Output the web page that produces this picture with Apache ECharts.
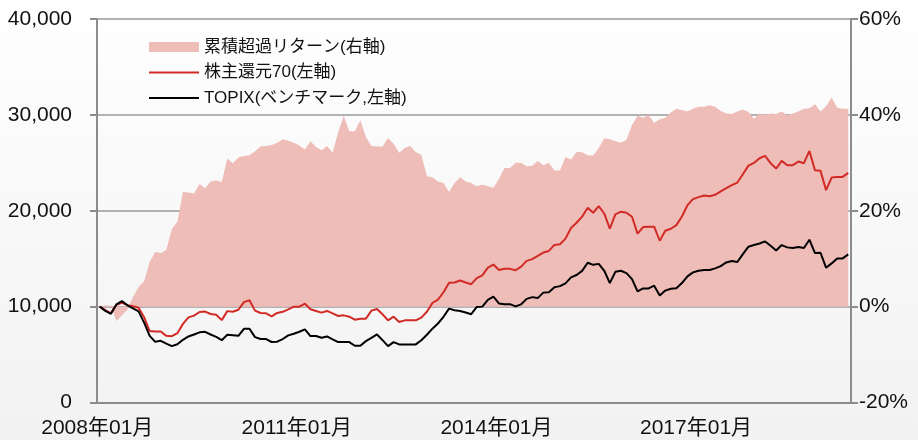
<!DOCTYPE html>
<html>
<head>
<meta charset="utf-8">
<script src="https://cdn.jsdelivr.net/npm/echarts@6/dist/echarts.min.js"></script>
<style>
  html, body { margin: 0; padding: 0; background: #fff; }
  #chart { width: 918px; height: 440px; }
</style>
</head>
<body>
<div id="chart"></div>
<script>
// Monthly series, 2008/01 .. 2019/04
const startYear = 2008;
const monthCount = 136;

// 累積超過リターン (%), right axis
const excessReturn = [
  0, 0.3, 0.2, -3.0, -1.8, -0.6, 2.0, 4.1, 5.3, 9.3, 11.4, 11.2,
  11.8, 16.2, 17.7, 23.9, 23.8, 23.6, 25.6, 24.7, 26.1, 26.3, 26.0, 30.9,
  29.9, 31.1, 31.4, 31.6, 32.4, 33.4, 33.5, 33.7, 34.2, 34.9, 34.6, 34.2,
  33.6, 32.8, 34.5, 33.3, 32.6, 33.5, 32.1, 36.4, 39.8, 36.6, 36.6, 38.9,
  35.4, 33.5, 33.4, 33.4, 35.2, 34.0, 32.1, 33.1, 33.5, 32.2, 31.7, 27.2,
  27.0, 26.1, 25.8, 23.9, 25.8, 27.0, 26.1, 25.8, 25.1, 25.5, 25.1, 24.8,
  26.6, 28.9, 28.9, 30.0, 30.0, 29.3, 29.4, 30.4, 29.5, 30.0, 28.4, 28.4,
  31.2, 30.7, 32.3, 32.2, 31.6, 31.5, 33.1, 35.1, 34.9, 34.5, 34.2, 34.8,
  37.9, 39.8, 39.4, 40.0, 38.3, 39.1, 39.4, 40.5, 41.3, 41.0, 40.7, 41.3,
  41.7, 41.7, 42.0, 41.7, 40.8, 40.3, 40.2, 40.7, 41.1, 40.6, 39.2, 40.3,
  40.0, 40.3, 40.2, 40.7, 39.9, 40.3, 40.7, 41.3, 41.4, 42.2, 40.7, 41.8,
  43.6, 41.5, 41.3, 41.3
];

// 株主還元70, left axis
const fundValues = [
  10000, 9650, 9300, 10200, 10400, 10150, 10050, 9880, 8900, 7450, 7400, 7400,
  6950, 6920, 7230, 8200, 8880, 9060, 9440, 9480, 9230, 9160, 8590, 9530,
  9460, 9670, 10470, 10660, 9580, 9340, 9300, 8990, 9340, 9460, 9720, 10000,
  10000, 10310, 9720, 9550, 9370, 9550, 9300, 9020, 9090, 8950, 8640, 8740,
  8740, 9580, 9760, 9200, 8570, 8950, 8400, 8570, 8570, 8570, 8850, 9460,
  10380, 10730, 11500, 12480, 12510, 12720, 12510, 12340, 12970, 13260, 14060, 14390,
  13820, 13940, 13940, 13790, 14170, 14770, 14950, 15290, 15640, 15810, 16440, 16500,
  17090, 18200, 18750, 19380, 20310, 19790, 20480, 19690, 18130, 19620, 19900, 19790,
  19380, 17610, 18300, 18340, 18340, 16870, 17910, 18120, 18500, 19400, 20580, 21210,
  21420, 21590, 21520, 21660, 22010, 22350, 22670, 22940, 23810, 24710, 24990, 25480,
  25720, 24960, 24400, 25200, 24750, 24750, 25130, 24960, 26240, 24230, 24160, 22150,
  23460, 23530, 23530, 23950
];

// TOPIX (ベンチマーク), left axis
const topixValues = [
  10000, 9560, 9250, 10230, 10570, 10140, 9810, 9500, 8330, 6950, 6330, 6430,
  6140, 5880, 6070, 6540, 6890, 7090, 7320, 7370, 7090, 6850, 6500, 7060,
  7020, 6950, 7690, 7690, 6820, 6620, 6620, 6310, 6340, 6620, 7000, 7170,
  7380, 7630, 6930, 6930, 6750, 6890, 6580, 6300, 6300, 6300, 5920, 5920,
  6400, 6750, 7100, 6510, 5880, 6300, 6060, 6060, 6060, 6060, 6490, 7070,
  7700, 8240, 8940, 9790, 9630, 9550, 9390, 9210, 9970, 10000, 10710, 11040,
  10330, 10260, 10260, 10020, 10240, 10810, 10990, 10890, 11460, 11510, 12030, 12140,
  12430, 13050, 13300, 13730, 14580, 14360, 14460, 13740, 12460, 13630, 13740, 13500,
  12870, 11590, 11900, 11900, 12180, 11150, 11670, 11870, 11910, 12460, 13160, 13570,
  13750, 13820, 13820, 13990, 14230, 14610, 14750, 14650, 15480, 16250, 16420, 16590,
  16800, 16350, 15860, 16420, 16180, 16110, 16210, 16110, 16980, 15590, 15620, 14060,
  14510, 15030, 15030, 15450
];

const seriesNames = ['累積超過リターン(右軸)', '株主還元70(左軸)', 'TOPIX(ベンチマーク,左軸)'];

// Category labels: 2008年01月 ...
const months = [];
for (let k = 0; k < monthCount; k++) {
  const y = startYear + Math.floor(k / 12);
  const m = (k % 12) + 1;
  months.push(y + '年' + String(m).padStart(2, '0') + '月');
}

const FONT = "'Liberation Sans', Arial, 'Noto Sans CJK JP', sans-serif";
const AXIS_GRAY = '#8c8c8c';
const GRID_GRAY = '#9a9a9a';
const AREA_PINK = '#eebdb8';
const RED = '#d22a25';
// plain horizontal bar used as the legend key for the two lines
const LINE_KEY = 'path://M0,0H50V2H0Z';

const chart = echarts.init(document.getElementById('chart'), null, { renderer: 'canvas' });

chart.setOption({
  animation: false,
  backgroundColor: {
    type: 'linear', x: 0, y: 0, x2: 0, y2: 1,
    colorStops: [
      { offset: 0, color: '#ffffff' },
      { offset: 0.2, color: '#fcfcfc' },
      { offset: 1, color: '#f2f2f2' }
    ]
  },
  textStyle: { fontFamily: FONT },
  grid: { left: 97, right: 67, top: 19, bottom: 37.5, containLabel: false },
  legend: {
    orient: 'vertical',
    left: 149,
    top: 38.5,
    padding: 0,
    itemWidth: 50,
    itemHeight: 10,
    itemGap: 8.5,
    symbolKeepAspect: true,
    textStyle: { fontSize: 17, color: '#111', fontFamily: FONT },
    data: [
      { name: seriesNames[0], icon: 'rect', itemStyle: { color: AREA_PINK, borderWidth: 0 } },
      { name: seriesNames[1], icon: LINE_KEY, itemStyle: { color: RED, borderWidth: 0 } },
      { name: seriesNames[2], icon: LINE_KEY, itemStyle: { color: '#000000', borderWidth: 0 } }
    ]
  },
  xAxis: {
    type: 'category',
    data: months,
    boundaryGap: true,
    axisLine: { lineStyle: { color: AXIS_GRAY, width: 2 } },
    axisTick: { interval: 11, length: 7, lineStyle: { color: AXIS_GRAY, width: 2 } },
    axisLabel: {
      interval: 35,
      fontSize: 21,
      color: '#111',
      fontFamily: FONT,
      margin: 15,
      padding: [0, 5, 0, 0]
    },
    splitLine: { show: false }
  },
  yAxis: [
    {
      type: 'value',
      position: 'left',
      min: 0,
      max: 40000,
      interval: 10000,
      axisLine: { show: true, lineStyle: { color: AXIS_GRAY, width: 2 } },
      axisTick: { show: true, length: 7, lineStyle: { color: AXIS_GRAY, width: 2 } },
      axisLabel: {
        fontSize: 21,
        color: '#111',
        fontFamily: FONT,
        margin: 25,
        formatter: v => v.toLocaleString('en-US')
      },
      splitLine: { show: true, lineStyle: { color: GRID_GRAY, width: 1.5 } }
    },
    {
      type: 'value',
      position: 'right',
      min: -20,
      max: 60,
      interval: 20,
      axisLine: { show: true, lineStyle: { color: AXIS_GRAY, width: 2 } },
      axisTick: { show: true, length: 7, lineStyle: { color: AXIS_GRAY, width: 2 } },
      axisLabel: {
        fontSize: 21,
        color: '#111',
        fontFamily: FONT,
        margin: 8,
        formatter: '{value}%'
      },
      splitLine: { show: false }
    }
  ],
  series: [
    {
      name: seriesNames[0],
      type: 'line',
      yAxisIndex: 1,
      data: excessReturn,
      symbol: 'none',
      color: AREA_PINK,
      lineStyle: { width: 0, color: AREA_PINK },
      areaStyle: { color: AREA_PINK, opacity: 1 },
      z: 1
    },
    {
      name: seriesNames[1],
      type: 'line',
      yAxisIndex: 0,
      data: fundValues,
      symbol: 'none',
      color: RED,
      lineStyle: { width: 2, color: RED },
      z: 3
    },
    {
      name: seriesNames[2],
      type: 'line',
      yAxisIndex: 0,
      data: topixValues,
      symbol: 'none',
      color: '#000000',
      lineStyle: { width: 2, color: '#000000' },
      z: 4
    }
  ]
});
</script>
</body>
</html>
